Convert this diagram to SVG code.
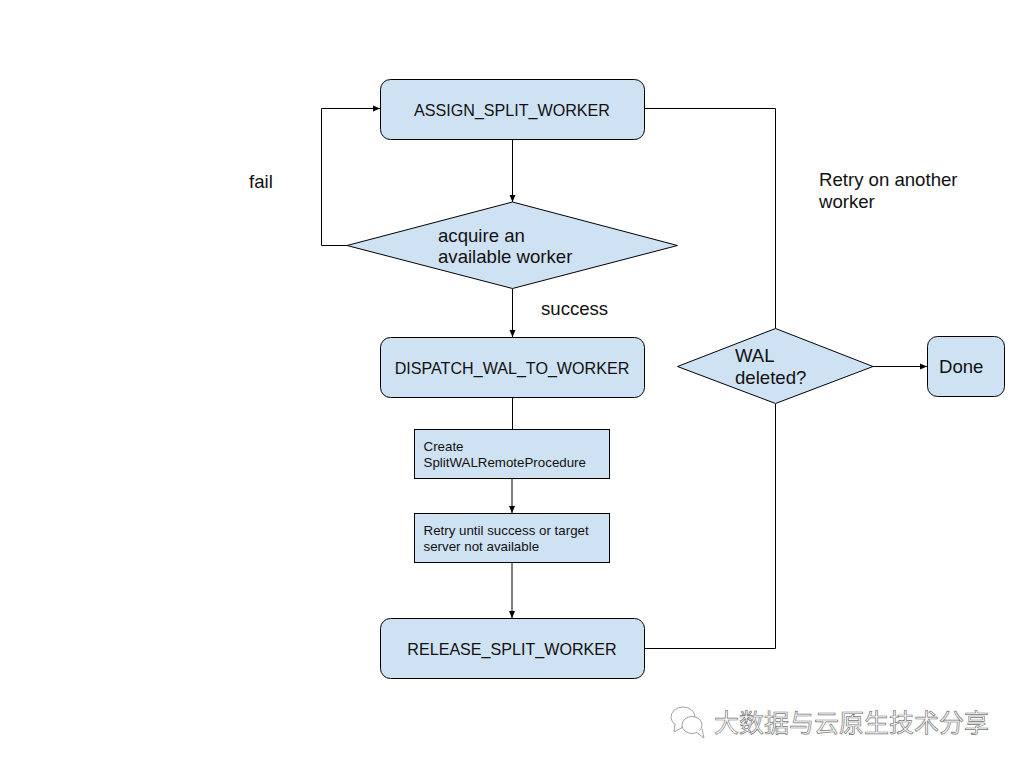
<svg xmlns="http://www.w3.org/2000/svg" width="1024" height="768" viewBox="0 0 1024 768">
<style>
.s{fill:#cfe2f3;stroke:#000;stroke-width:1}
.c{fill:none;stroke:#000;stroke-width:1}
text{font-family:"Liberation Sans",Arial,sans-serif;fill:#111}
.a{font-size:16.1px;text-anchor:middle}
.b{font-size:18.6px}
.m{font-size:13.33px}
.w{font-family:"Noto Sans CJK SC","Liberation Sans",sans-serif;font-size:25px;fill:#fff;stroke:#777;stroke-width:.7px}
</style>
<defs><marker id="h" markerUnits="userSpaceOnUse" markerWidth="7" markerHeight="8" refX="7" refY="4" orient="auto"><path d="M0 1L7 4L0 7z" fill="#000"/></marker></defs>
<rect width="1024" height="768" fill="#fff"/>
<g id="connectors">
<path class="c" d="M512.500 139V202" marker-end="url(#h)"/>
<path class="c" d="M347 245.500H321.500V108.500H380" marker-end="url(#h)"/>
<path class="c" d="M512.500 289V337" marker-end="url(#h)"/>
<path class="c" d="M512.500 397V430"/>
<path class="c" d="M512 479V513" marker-end="url(#h)"/>
<path class="c" d="M512 562V618" marker-end="url(#h)"/>
<path class="c" d="M645 108.500H775.500V328"/>
<path class="c" d="M645 648.500H775.500V404"/>
<path class="c" d="M873 366.500H927" marker-end="url(#h)"/>
</g>
<g id="assign"><rect class="s" x="380.500" y="79.500" width="264" height="60" rx="10"/><text class="a" x="512" y="115.500">ASSIGN_SPLIT_WORKER</text></g>
<g id="acquire"><path class="s" d="M512.500 202L677.500 245.500L512.500 288.500L347 245.500Z"/><text class="b" x="438" y="241.500">acquire an</text><text class="b" x="438" y="263">available worker</text></g>
<g id="dispatch"><rect class="s" x="380.500" y="337.500" width="264" height="60" rx="10"/><text class="a" x="512" y="373.500">DISPATCH_WAL_TO_WORKER</text></g>
<g id="create"><rect class="s" x="414.500" y="429.500" width="195" height="49"/><text class="m" x="423.500" y="451">Create</text><text class="m" x="423.500" y="467">SplitWALRemoteProcedure</text></g>
<g id="retry"><rect class="s" x="414.500" y="513.500" width="195" height="49"/><text class="m" x="423.500" y="535">Retry until success or target</text><text class="m" x="423.500" y="551">server not available</text></g>
<g id="release"><rect class="s" x="380.500" y="618.500" width="264" height="60" rx="10"/><text class="a" x="512" y="654.500">RELEASE_SPLIT_WORKER</text></g>
<g id="wal"><path class="s" d="M775.500 328.500L873 366.500L775.500 403.500L677.500 366.500Z"/><text class="b" x="735" y="362">WAL</text><text class="b" x="735" y="384">deleted?</text></g>
<g id="done"><rect class="s" x="927.500" y="336.500" width="77" height="60" rx="10"/><text class="b" x="939" y="373">Done</text></g>
<g id="labels">
<text class="b" x="249" y="188">fail</text>
<text class="b" x="541" y="315">success</text>
<text class="b" x="819" y="186">Retry on another</text>
<text class="b" x="819" y="208">worker</text>
</g>
<g id="watermark">
<g fill="#fff" stroke="#8a8a8a" stroke-width=".8"><ellipse cx="683" cy="717" rx="12" ry="10"/><path d="M675 724L674 732L683 727"/><ellipse cx="692" cy="725" rx="10" ry="8.500"/><path d="M696 732L704 738L702 729"/></g>
<text class="w" x="714" y="732">大数据与云原生技术分享</text>
</g>
</svg>
